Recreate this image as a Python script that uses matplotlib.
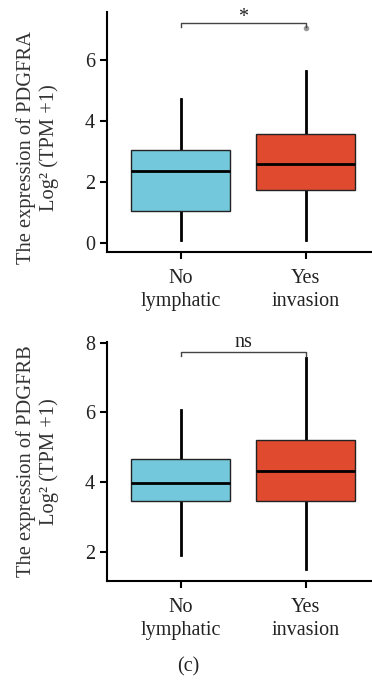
import matplotlib
matplotlib.use('Agg')
import matplotlib.pyplot as plt

# groups on the x axis
groups = ['No\nlymphatic', 'Yes\ninvasion']
box_colors = ['#73C8DC', '#E04B2F']

# PDGFRA: whisker low, Q1, median, Q3, whisker high
pdgfra_stats = [
    [0.10, 1.04, 2.36, 3.03, 4.72],
    [0.10, 1.73, 2.60, 3.58, 5.64],
]
pdgfra_fliers = [[], [7.04]]
pdgfra_sig = '*'

# PDGFRB: whisker low, Q1, median, Q3, whisker high
pdgfrb_stats = [
    [1.92, 3.46, 3.96, 4.65, 6.07],
    [1.50, 3.45, 4.33, 5.20, 7.55],
]
pdgfrb_fliers = [[], []]
pdgfrb_sig = 'ns'

plt.rcParams['font.family'] = ['Liberation Serif', 'DejaVu Serif']


def draw_panel(ax, stats, fliers, gene, sig, sig_offset, ylim, yticks, bracket, label_y):
    bxp_stats = []
    for i, s in enumerate(stats):
        bxp_stats.append({'whislo': s[0], 'q1': s[1], 'med': s[2], 'q3': s[3],
                          'whishi': s[4], 'fliers': fliers[i], 'label': groups[i]})
    parts = ax.bxp(bxp_stats, positions=[0, 1], widths=0.79, patch_artist=True,
                   showcaps=False,
                   boxprops=dict(edgecolor='#222222', linewidth=1.0),
                   medianprops=dict(color='black', linewidth=2.0),
                   whiskerprops=dict(color='black', linewidth=2.0),
                   flierprops=dict(marker='o', markersize=3, markerfacecolor='#999999',
                                   markeredgecolor='#999999'))
    for patch, c in zip(parts['boxes'], box_colors):
        patch.set_facecolor(c)
    # whiskers are drawn under the boxes
    for w in parts['whiskers']:
        w.set_zorder(1)

    # significance bracket
    top, leg = bracket
    ax.plot([0, 0, 1, 1], [leg, top, top, leg], color='#444444', linewidth=1.0,
            clip_on=False)
    ax.annotate(sig, xy=(0.5, top), xytext=(0, sig_offset), textcoords='offset points',
                ha='center', va='baseline', fontsize=14.5, color='#222222',
                annotation_clip=False)

    ax.set_xlim(-0.588, 1.53)
    ax.set_ylim(*ylim)
    ax.set_yticks(yticks)
    ax.set_xticks([0, 1])
    ax.set_xticklabels(groups, fontsize=14.5, color='#222222', linespacing=1.3)
    ax.tick_params(axis='y', labelsize=14.5, labelcolor='#222222', length=5, width=1.5)
    ax.tick_params(axis='x', length=5, width=1.5, pad=7)
    for side in ['top', 'right']:
        ax.spines[side].set_visible(False)
    for side in ['left', 'bottom']:
        ax.spines[side].set_linewidth(1.5)
    ax.set_ylabel('The expression of %s\nLog\u00b2 (TPM +1)' % gene, fontsize=14.8,
                  color='#333333', linespacing=1.25)
    ax.yaxis.set_label_coords(-0.18, label_y)


fig = plt.figure(figsize=(3.72, 6.84), dpi=100)
ax1 = fig.add_axes([0.2876, 0.6316, 0.7124, 0.3509])
ax2 = fig.add_axes([0.2876, 0.1506, 0.7124, 0.3494])

draw_panel(ax1, pdgfra_stats, pdgfra_fliers, 'PDGFRA', pdgfra_sig, 0.5,
           (-0.3, 7.57), [0, 2, 4, 6], (7.22, 7.09), 0.435)
draw_panel(ax2, pdgfrb_stats, pdgfrb_fliers, 'PDGFRB', pdgfrb_sig, 3.6,
           (1.16, 8.02), [2, 4, 6, 8], (7.74, 7.61), 0.5)

fig.text(0.505, 0.025, '(c)', ha='center', va='center', fontsize=14.5, color='#222222')

fig.savefig('out.png', dpi=100)
